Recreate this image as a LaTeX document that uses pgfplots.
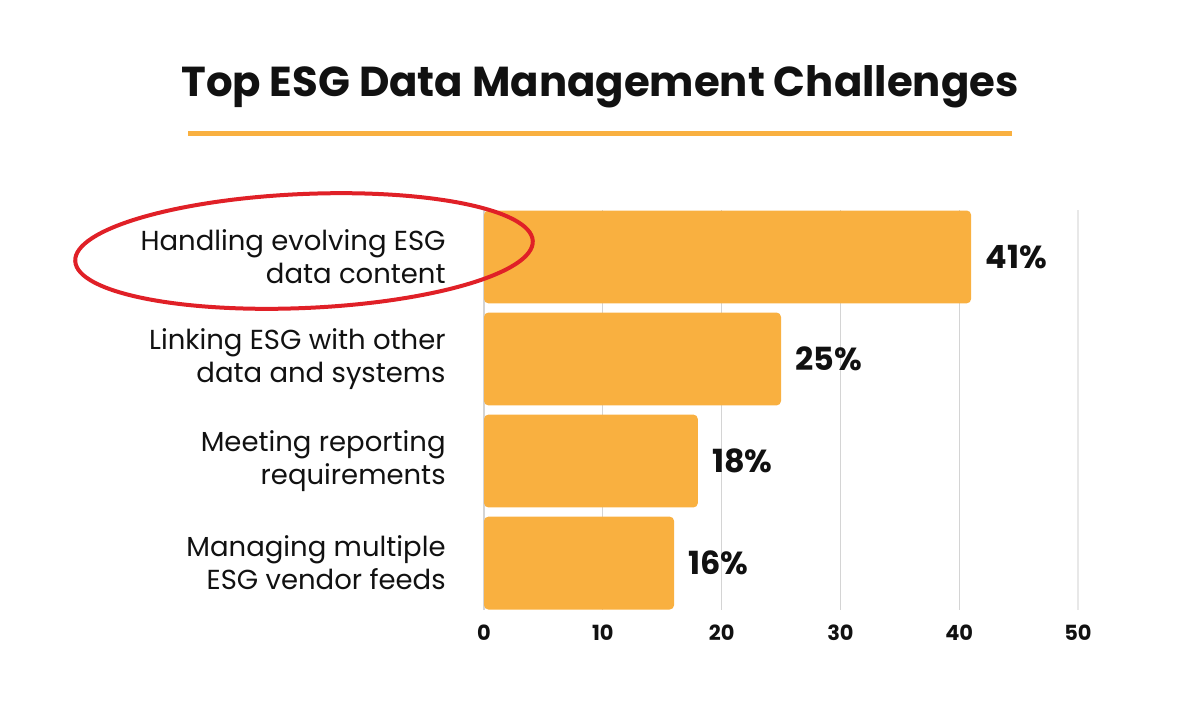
\documentclass[border=0pt]{standalone}
\usepackage{fontspec}
\setmainfont{Poppins}
\usepackage{pgfplots}
\usepackage{pgfplotstable}
\pgfplotsset{compat=1.18}

\definecolor{barorange}{HTML}{F9B040}
\definecolor{ringred}{HTML}{E02027}
\definecolor{ink}{HTML}{111111}

\pgfplotstableread{
idx value
0 41
1 25
2 18
3 16
}\challenges

\begin{document}
\begin{tikzpicture}[x=1bp,y=1bp]
\useasboundingbox (0,0) rectangle (600,350);

% title and underline
\node[font=\bfseries\fontsize{21}{24}\selectfont, text=ink] at (300,306.5)
  {Top ESG Data Management Challenges};
\draw[barorange, line width=2.5bp] (94,283.5) -- (506,283.5);

\begin{axis}[
  at={(242bp,45bp)}, anchor=south west,
  scale only axis,
  width=297bp, height=200bp,
  xmin=0, xmax=50,
  ymin=-0.46, ymax=3.46,
  y dir=reverse,
  xbar, bar width=0.91, bar shift=0pt,
  xtick={0,10,...,40},
  extra x ticks={50},
  extra x tick style={major grid style={draw=black!9, line width=0.6bp}},
  ytick={0,1,2,3},
  yticklabels={
    {Handling evolving ESG\\data content},
    {Linking ESG with other\\data and systems},
    {Meeting reporting\\requirements},
    {Managing multiple\\ESG vendor feeds}},
  yticklabel style={align=right, anchor=east, inner sep=0pt, xshift=-19bp,
    font=\fontsize{13.8}{16.5}\selectfont, text=ink},
  xticklabel style={anchor=center, inner sep=0pt, yshift=-11.5bp,
    font=\fontsize{10.5}{12}\selectfont\bfseries, text=ink},
  /pgf/number format/assume math mode=true,
  axis line style={draw=none},
  major tick length=0pt,
  xmajorgrids,
  major grid style={draw=black!17, line width=0.6bp},
  clip=false,
]
  \addplot[draw=none, fill=barorange, rounded corners=2.2bp,
    nodes near coords={\pgfmathprintnumber{\pgfplotspointmeta}\%},
    nodes near coords style={anchor=west, inner sep=0pt, xshift=7bp,
      font=\bfseries\fontsize{16}{19}\selectfont, text=ink}]
    table[x=value, y=idx] {\challenges};
\end{axis}

% hand-drawn highlight ring around the first category
\draw[ringred, line width=2bp, rotate around={2.5:(152,224.5)}]
  (152,224.5) ellipse [x radius=114.5, y radius=28.5];
\end{tikzpicture}
\end{document}
